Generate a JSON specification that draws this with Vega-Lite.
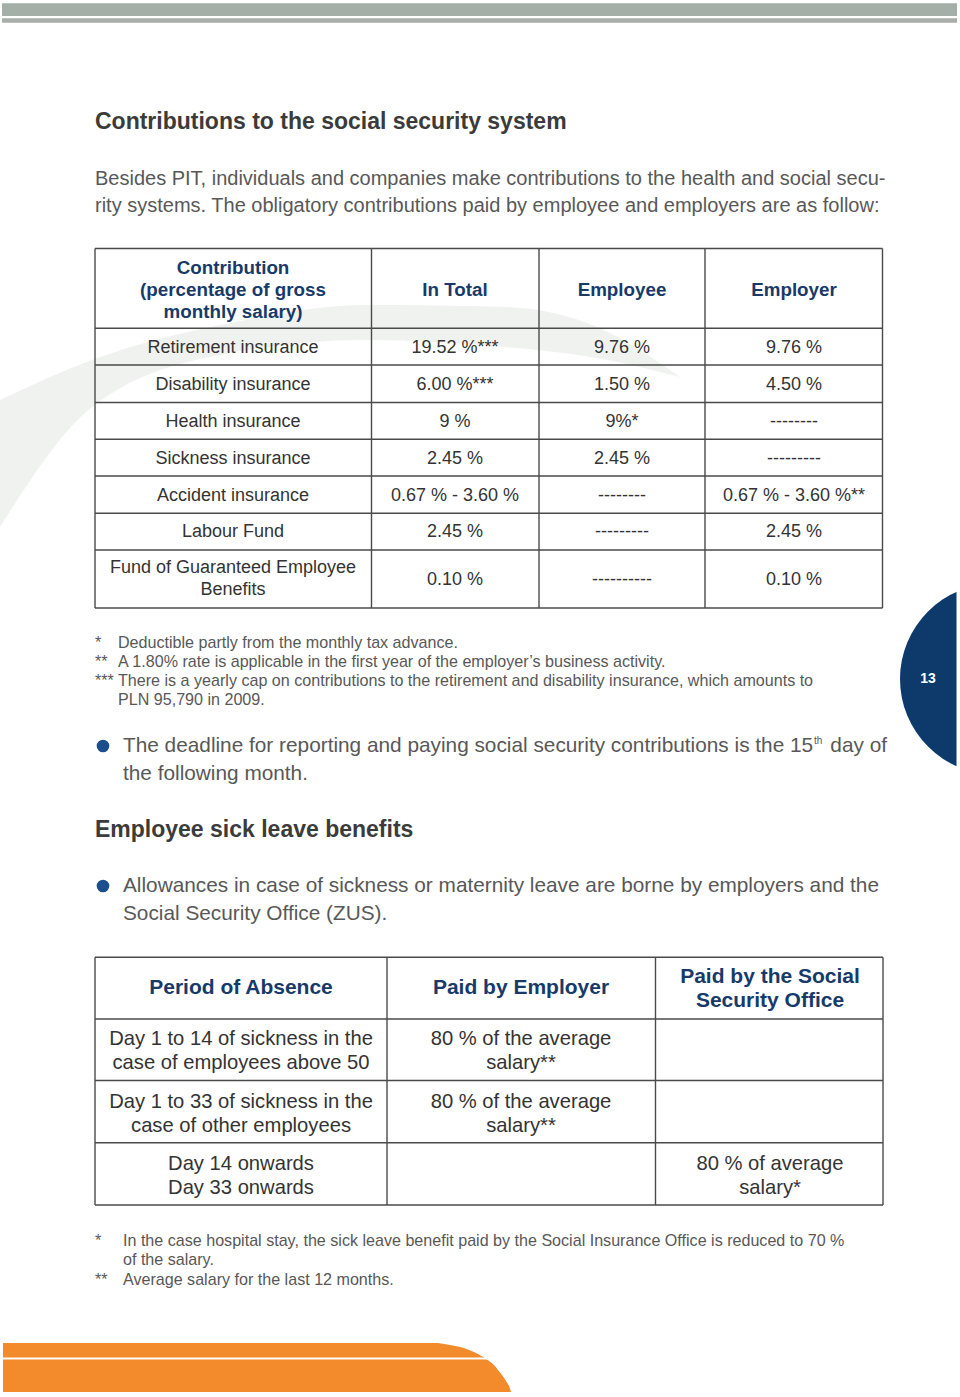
{
  "$schema": "https://vega.github.io/schema/vega-lite/v6.json",
  "width": 960,
  "height": 1397,
  "padding": 0,
  "autosize": {"type": "fit", "contains": "padding"},
  "background": "#ffffff",
  "config": {"view": {"stroke": null}},
  "datasets": {
    "rects": [
      {"kind": "bar1", "x": 2, "x2": 957, "y": 3.3, "y2": 16},
      {"kind": "bar2", "x": 2, "x2": 957, "y": 18.3, "y2": 22.7}
    ],
    "swoosh": [
      {"x": 0, "yt": 400, "yb": 527},
      {"x": 92, "yt": 360, "yb": 407},
      {"x": 230, "yt": 323, "yb": 353},
      {"x": 367, "yt": 305, "yb": 340},
      {"x": 505, "yt": 307, "yb": 347},
      {"x": 597, "yt": 327, "yb": 358},
      {"x": 680, "yt": 377, "yb": 377}
    ],
    "orange": [
      {"y": 1343, "xr": 438},
      {"y": 1345, "xr": 450},
      {"y": 1347, "xr": 460},
      {"y": 1350, "xr": 469},
      {"y": 1353, "xr": 476},
      {"y": 1357, "xr": 483},
      {"y": 1361, "xr": 489},
      {"y": 1365, "xr": 494},
      {"y": 1370, "xr": 498},
      {"y": 1375, "xr": 502},
      {"y": 1381, "xr": 506},
      {"y": 1386, "xr": 509},
      {"y": 1392, "xr": 511}
    ],
    "gaps": [
      {"x": 0, "x2": 530, "y": 1357.6, "y2": 1359.4},
      {"x": 956.5, "x2": 960, "y": 560, "y2": 800}
    ],
    "dots": [
      {"kind": "bullet", "x": 103, "y": 746},
      {"kind": "bullet", "x": 103, "y": 886},
      {"kind": "tab", "x": 995.6, "y": 679}
    ],
    "grid": [
      {"x": 95, "x2": 882.5, "y": 248.5, "y2": 248.5},
      {"x": 95, "x2": 882.5, "y": 328.3, "y2": 328.3},
      {"x": 95, "x2": 882.5, "y": 365, "y2": 365},
      {"x": 95, "x2": 882.5, "y": 402.5, "y2": 402.5},
      {"x": 95, "x2": 882.5, "y": 439.3, "y2": 439.3},
      {"x": 95, "x2": 882.5, "y": 476, "y2": 476},
      {"x": 95, "x2": 882.5, "y": 513.3, "y2": 513.3},
      {"x": 95, "x2": 882.5, "y": 550, "y2": 550},
      {"x": 95, "x2": 882.5, "y": 608, "y2": 608},
      {"x": 95, "x2": 95, "y": 248.5, "y2": 608},
      {"x": 371.5, "x2": 371.5, "y": 248.5, "y2": 608},
      {"x": 539, "x2": 539, "y": 248.5, "y2": 608},
      {"x": 705, "x2": 705, "y": 248.5, "y2": 608},
      {"x": 882.5, "x2": 882.5, "y": 248.5, "y2": 608},
      {"x": 95, "x2": 883, "y": 957.3, "y2": 957.3},
      {"x": 95, "x2": 883, "y": 1019, "y2": 1019},
      {"x": 95, "x2": 883, "y": 1080.5, "y2": 1080.5},
      {"x": 95, "x2": 883, "y": 1142.7, "y2": 1142.7},
      {"x": 95, "x2": 883, "y": 1205, "y2": 1205},
      {"x": 95, "x2": 95, "y": 957.3, "y2": 1205},
      {"x": 387, "x2": 387, "y": 957.3, "y2": 1205},
      {"x": 655.5, "x2": 655.5, "y": 957.3, "y2": 1205},
      {"x": 883, "x2": 883, "y": 957.3, "y2": 1205}
    ],
    "texts": [
      {"role": "h", "x": 95, "y": 122, "text": "Contributions to the social security system"},
      {"role": "h", "x": 95, "y": 830, "text": "Employee sick leave benefits"},
      {"role": "p", "x": 95, "y": 179, "text": "Besides PIT, individuals and companies make contributions to the health and social secu-"},
      {"role": "p", "x": 95, "y": 206, "text": "rity systems. The obligatory contributions paid by employee and employers are as follow:"},
      {"role": "b", "x": 123, "y": 746, "text": "The deadline for reporting and paying social security contributions is the 15"},
      {"role": "br", "x": 887, "y": 746, "text": "day of"},
      {"role": "sup", "x": 814, "y": 741, "text": "th"},
      {"role": "b", "x": 123, "y": 774, "text": "the following month."},
      {"role": "b", "x": 123, "y": 886, "text": "Allowances in case of sickness or maternity leave are borne by employers and the"},
      {"role": "b", "x": 123, "y": 914, "text": "Social Security Office (ZUS)."},
      {"role": "th1", "x": 233, "y": 268.3, "text": "Contribution"},
      {"role": "th1", "x": 233, "y": 290, "text": "(percentage of gross"},
      {"role": "th1", "x": 233, "y": 311.7, "text": "monthly salary)"},
      {"role": "th1", "x": 455, "y": 290, "text": "In Total"},
      {"role": "th1", "x": 622, "y": 290, "text": "Employee"},
      {"role": "th1", "x": 794, "y": 290, "text": "Employer"},
      {"role": "td1", "x": 233, "y": 347.7, "text": "Retirement insurance"},
      {"role": "td1", "x": 455, "y": 347.7, "text": "19.52 %***"},
      {"role": "td1", "x": 622, "y": 347.7, "text": "9.76 %"},
      {"role": "td1", "x": 794, "y": 347.7, "text": "9.76 %"},
      {"role": "td1", "x": 233, "y": 385, "text": "Disability insurance"},
      {"role": "td1", "x": 455, "y": 385, "text": "6.00 %***"},
      {"role": "td1", "x": 622, "y": 385, "text": "1.50 %"},
      {"role": "td1", "x": 794, "y": 385, "text": "4.50 %"},
      {"role": "td1", "x": 233, "y": 421.7, "text": "Health insurance"},
      {"role": "td1", "x": 455, "y": 421.7, "text": "9 %"},
      {"role": "td1", "x": 622, "y": 421.7, "text": "9%*"},
      {"role": "td1", "x": 794, "y": 421.7, "text": "--------"},
      {"role": "td1", "x": 233, "y": 459, "text": "Sickness insurance"},
      {"role": "td1", "x": 455, "y": 459, "text": "2.45 %"},
      {"role": "td1", "x": 622, "y": 459, "text": "2.45 %"},
      {"role": "td1", "x": 794, "y": 459, "text": "---------"},
      {"role": "td1", "x": 233, "y": 495.7, "text": "Accident insurance"},
      {"role": "td1", "x": 455, "y": 495.7, "text": "0.67 % - 3.60 %"},
      {"role": "td1", "x": 622, "y": 495.7, "text": "--------"},
      {"role": "td1", "x": 794, "y": 495.7, "text": "0.67 % - 3.60 %**"},
      {"role": "td1", "x": 233, "y": 532.3, "text": "Labour Fund"},
      {"role": "td1", "x": 455, "y": 532.3, "text": "2.45 %"},
      {"role": "td1", "x": 622, "y": 532.3, "text": "---------"},
      {"role": "td1", "x": 794, "y": 532.3, "text": "2.45 %"},
      {"role": "td1", "x": 233, "y": 568, "text": "Fund of Guaranteed Employee"},
      {"role": "td1", "x": 233, "y": 590, "text": "Benefits"},
      {"role": "td1", "x": 455, "y": 580, "text": "0.10 %"},
      {"role": "td1", "x": 622, "y": 580, "text": "----------"},
      {"role": "td1", "x": 794, "y": 580, "text": "0.10 %"},
      {"role": "n", "x": 95, "y": 643, "text": "*"},
      {"role": "n", "x": 118, "y": 643, "text": "Deductible partly from the monthly tax advance."},
      {"role": "n", "x": 95, "y": 662, "text": "**"},
      {"role": "n", "x": 118, "y": 662, "text": "A 1.80% rate is applicable in the first year of the employer’s business activity."},
      {"role": "n", "x": 95, "y": 681, "text": "***"},
      {"role": "n", "x": 118, "y": 681, "text": "There is a yearly cap on contributions to the retirement and disability insurance, which amounts to"},
      {"role": "n", "x": 118, "y": 700, "text": "PLN 95,790 in 2009."},
      {"role": "th2", "x": 241, "y": 988.3, "text": "Period of Absence"},
      {"role": "th2", "x": 521, "y": 988.3, "text": "Paid by Employer"},
      {"role": "th2", "x": 770, "y": 976.7, "text": "Paid by the Social"},
      {"role": "th2", "x": 770, "y": 1000.7, "text": "Security Office"},
      {"role": "td2", "x": 241, "y": 1039.3, "text": "Day 1 to 14 of sickness in the"},
      {"role": "td2", "x": 241, "y": 1063.3, "text": "case of employees above 50"},
      {"role": "td2", "x": 521, "y": 1039.3, "text": "80 % of the average"},
      {"role": "td2", "x": 521, "y": 1063.3, "text": "salary**"},
      {"role": "td2", "x": 241, "y": 1101.7, "text": "Day 1 to 33 of sickness in the"},
      {"role": "td2", "x": 241, "y": 1125.7, "text": "case of other employees"},
      {"role": "td2", "x": 521, "y": 1101.7, "text": "80 % of the average"},
      {"role": "td2", "x": 521, "y": 1125.7, "text": "salary**"},
      {"role": "td2", "x": 241, "y": 1164, "text": "Day 14 onwards"},
      {"role": "td2", "x": 241, "y": 1187.7, "text": "Day 33 onwards"},
      {"role": "td2", "x": 770, "y": 1164, "text": "80 % of average"},
      {"role": "td2", "x": 770, "y": 1187.7, "text": "salary*"},
      {"role": "n", "x": 95, "y": 1240.5, "text": "*"},
      {"role": "n", "x": 123, "y": 1240.5, "text": "In the case hospital stay, the sick leave benefit paid by the Social Insurance Office is reduced to 70 %"},
      {"role": "n", "x": 123, "y": 1260, "text": "of the  salary."},
      {"role": "n", "x": 95, "y": 1279.5, "text": "**"},
      {"role": "n", "x": 123, "y": 1279.5, "text": "Average salary for the last 12 months."},
      {"role": "tab", "x": 928, "y": 679, "text": "13"}
    ]
  },
  "layer": [
    {
      "data": {"name": "swoosh"},
      "mark": {"type": "area", "color": "#f0f2f0", "interpolate": "monotone"},
      "encoding": {
        "x": {"field": "x", "type": "quantitative", "scale": {"domain": [0, 960], "nice": false, "zero": false}, "axis": null},
        "y": {"field": "yt", "type": "quantitative", "scale": {"domain": [0, 1397], "reverse": true, "nice": false, "zero": false}, "axis": null},
        "y2": {"field": "yb"}
      }
    },
    {
      "data": {"name": "rects"},
      "transform": [{"filter": "datum.kind == 'bar1'"}],
      "mark": {"type": "rect", "color": "#a4afa7"},
      "encoding": {
        "x": {"field": "x", "type": "quantitative", "axis": null},
        "x2": {"field": "x2"},
        "y": {"field": "y", "type": "quantitative", "axis": null},
        "y2": {"field": "y2"}
      }
    },
    {
      "data": {"name": "rects"},
      "transform": [{"filter": "datum.kind == 'bar2'"}],
      "mark": {"type": "rect", "color": "#a9aeaa"},
      "encoding": {
        "x": {"field": "x", "type": "quantitative", "axis": null},
        "x2": {"field": "x2"},
        "y": {"field": "y", "type": "quantitative", "axis": null},
        "y2": {"field": "y2"}
      }
    },
    {
      "data": {"name": "orange"},
      "mark": {"type": "area", "orient": "horizontal", "color": "#f38a2b", "interpolate": "monotone"},
      "encoding": {
        "y": {"field": "y", "type": "quantitative", "axis": null},
        "x": {"field": "xr", "type": "quantitative", "axis": null},
        "x2": {"datum": 3}
      }
    },
    {
      "data": {"name": "dots"},
      "transform": [{"filter": "datum.kind == 'tab'"}],
      "mark": {"type": "point", "shape": "circle", "filled": true, "opacity": 1, "color": "#0d3a6b", "size": 36557, "clip": true},
      "encoding": {
        "x": {"field": "x", "type": "quantitative", "axis": null},
        "y": {"field": "y", "type": "quantitative", "axis": null}
      }
    },
    {
      "data": {"name": "gaps"},
      "mark": {"type": "rect", "color": "#ffffff"},
      "encoding": {
        "x": {"field": "x", "type": "quantitative", "axis": null},
        "x2": {"field": "x2"},
        "y": {"field": "y", "type": "quantitative", "axis": null},
        "y2": {"field": "y2"}
      }
    },
    {
      "data": {"name": "dots"},
      "transform": [{"filter": "datum.kind == 'bullet'"}],
      "mark": {"type": "point", "shape": "circle", "filled": true, "opacity": 1, "color": "#1d4e8c", "size": 160},
      "encoding": {
        "x": {"field": "x", "type": "quantitative", "axis": null},
        "y": {"field": "y", "type": "quantitative", "axis": null}
      }
    },
    {
      "data": {"name": "grid"},
      "mark": {"type": "rule", "color": "#4a4a4a", "strokeWidth": 1.4},
      "encoding": {
        "x": {"field": "x", "type": "quantitative", "axis": null},
        "x2": {"field": "x2"},
        "y": {"field": "y", "type": "quantitative", "axis": null},
        "y2": {"field": "y2"}
      }
    },
    {
      "data": {"name": "texts"},
      "transform": [{"filter": "datum.role == 'h'"}],
      "mark": {"type": "text", "font": "Liberation Sans", "fontWeight": "bold", "fontSize": 23, "color": "#3b3b3b", "align": "left", "baseline": "middle"},
      "encoding": {
        "x": {"field": "x", "type": "quantitative", "axis": null},
        "y": {"field": "y", "type": "quantitative", "axis": null},
        "text": {"field": "text"}
      }
    },
    {
      "data": {"name": "texts"},
      "transform": [{"filter": "datum.role == 'p'"}],
      "mark": {"type": "text", "font": "Liberation Sans", "fontSize": 20, "color": "#585858", "align": "left", "baseline": "middle"},
      "encoding": {
        "x": {"field": "x", "type": "quantitative", "axis": null},
        "y": {"field": "y", "type": "quantitative", "axis": null},
        "text": {"field": "text"}
      }
    },
    {
      "data": {"name": "texts"},
      "transform": [{"filter": "datum.role == 'b'"}],
      "mark": {"type": "text", "font": "Liberation Sans", "fontSize": 20.8, "color": "#585858", "align": "left", "baseline": "middle"},
      "encoding": {
        "x": {"field": "x", "type": "quantitative", "axis": null},
        "y": {"field": "y", "type": "quantitative", "axis": null},
        "text": {"field": "text"}
      }
    },
    {
      "data": {"name": "texts"},
      "transform": [{"filter": "datum.role == 'br'"}],
      "mark": {"type": "text", "font": "Liberation Sans", "fontSize": 20.8, "color": "#585858", "align": "right", "baseline": "middle"},
      "encoding": {
        "x": {"field": "x", "type": "quantitative", "axis": null},
        "y": {"field": "y", "type": "quantitative", "axis": null},
        "text": {"field": "text"}
      }
    },
    {
      "data": {"name": "texts"},
      "transform": [{"filter": "datum.role == 'sup'"}],
      "mark": {"type": "text", "font": "Liberation Sans", "fontSize": 10, "color": "#585858", "align": "left", "baseline": "middle"},
      "encoding": {
        "x": {"field": "x", "type": "quantitative", "axis": null},
        "y": {"field": "y", "type": "quantitative", "axis": null},
        "text": {"field": "text"}
      }
    },
    {
      "data": {"name": "texts"},
      "transform": [{"filter": "datum.role == 'th1'"}],
      "mark": {"type": "text", "font": "Liberation Sans", "fontWeight": "bold", "fontSize": 18.8, "color": "#173a6b", "align": "center", "baseline": "middle"},
      "encoding": {
        "x": {"field": "x", "type": "quantitative", "axis": null},
        "y": {"field": "y", "type": "quantitative", "axis": null},
        "text": {"field": "text"}
      }
    },
    {
      "data": {"name": "texts"},
      "transform": [{"filter": "datum.role == 'td1'"}],
      "mark": {"type": "text", "font": "Liberation Sans", "fontSize": 18, "color": "#333333", "align": "center", "baseline": "middle"},
      "encoding": {
        "x": {"field": "x", "type": "quantitative", "axis": null},
        "y": {"field": "y", "type": "quantitative", "axis": null},
        "text": {"field": "text"}
      }
    },
    {
      "data": {"name": "texts"},
      "transform": [{"filter": "datum.role == 'n'"}],
      "mark": {"type": "text", "font": "Liberation Sans", "fontSize": 16.1, "color": "#585858", "align": "left", "baseline": "middle"},
      "encoding": {
        "x": {"field": "x", "type": "quantitative", "axis": null},
        "y": {"field": "y", "type": "quantitative", "axis": null},
        "text": {"field": "text"}
      }
    },
    {
      "data": {"name": "texts"},
      "transform": [{"filter": "datum.role == 'th2'"}],
      "mark": {"type": "text", "font": "Liberation Sans", "fontWeight": "bold", "fontSize": 21, "color": "#173a6b", "align": "center", "baseline": "middle"},
      "encoding": {
        "x": {"field": "x", "type": "quantitative", "axis": null},
        "y": {"field": "y", "type": "quantitative", "axis": null},
        "text": {"field": "text"}
      }
    },
    {
      "data": {"name": "texts"},
      "transform": [{"filter": "datum.role == 'td2'"}],
      "mark": {"type": "text", "font": "Liberation Sans", "fontSize": 20.2, "color": "#333333", "align": "center", "baseline": "middle"},
      "encoding": {
        "x": {"field": "x", "type": "quantitative", "axis": null},
        "y": {"field": "y", "type": "quantitative", "axis": null},
        "text": {"field": "text"}
      }
    },
    {
      "data": {"name": "texts"},
      "transform": [{"filter": "datum.role == 'tab'"}],
      "mark": {"type": "text", "font": "Liberation Sans", "fontWeight": "bold", "fontSize": 14, "color": "#ffffff", "align": "center", "baseline": "middle"},
      "encoding": {
        "x": {"field": "x", "type": "quantitative", "axis": null},
        "y": {"field": "y", "type": "quantitative", "axis": null},
        "text": {"field": "text"}
      }
    }
  ]
}
